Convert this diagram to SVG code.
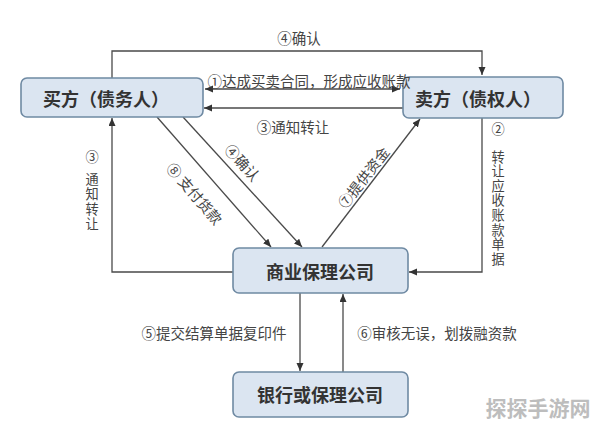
<svg xmlns="http://www.w3.org/2000/svg" width="596" height="426" viewBox="0 0 596 426">
<style>
.box{fill:#dbe5f1;stroke:#6f8aa3;stroke-width:1.6}
.bt{font-family:"Noto Sans CJK SC","Noto Sans",sans-serif;font-weight:bold;font-size:18px;fill:#333;text-anchor:middle;dominant-baseline:central}
.lb{font-family:"Noto Sans CJK SC","Noto Sans",sans-serif;font-size:14.5px;fill:#444;text-anchor:middle;dominant-baseline:central}
.vt{font-family:"Noto Sans CJK SC","Noto Sans",sans-serif;font-size:13.2px;fill:#444;text-anchor:middle;dominant-baseline:central}
.vv{font-family:"Noto Sans CJK SC","Noto Sans",sans-serif;font-size:13.2px;fill:#444;writing-mode:vertical-rl;text-orientation:upright;text-anchor:start}
.ln{fill:none;stroke:#4a4a4a;stroke-width:1.3}
.wm{font-family:"Noto Sans CJK SC",sans-serif;font-weight:bold;font-size:21px;fill:#bdbdbd;text-anchor:middle;dominant-baseline:central}
</style>
<defs>
<marker id="ah" markerUnits="userSpaceOnUse" markerWidth="9" markerHeight="8" refX="8" refY="3.5" orient="auto-start-reverse">
<path d="M0,0 L8,3.5 L0,7 z" fill="#333"/>
</marker>
</defs>
<rect width="596" height="426" fill="#fff"/>
<g id="connectors">
<path class="ln" d="M112,78 V51 H482 V75" marker-end="url(#ah)"/>
<path class="ln" d="M205,89 H400" marker-start="url(#ah)" marker-end="url(#ah)"/>
<path class="ln" d="M403,108 H204" marker-end="url(#ah)"/>
<path class="ln" d="M233,272 H112 V118" marker-end="url(#ah)"/>
<path class="ln" d="M482,118 V272 H409" marker-end="url(#ah)"/>
<path class="ln" d="M157,117 L271,247" marker-end="url(#ah)"/>
<path class="ln" d="M183,117 L302,247" marker-end="url(#ah)"/>
<path class="ln" d="M322,247 L420,119" marker-end="url(#ah)"/>
<path class="ln" d="M300,293 V371" marker-end="url(#ah)"/>
<path class="ln" d="M343,372 V294" marker-end="url(#ah)"/>
</g>
<g id="buyer">
<rect class="box" x="21" y="78" width="182" height="39" rx="6"/>
<text class="bt" x="106" y="98">买方（债务人）</text>
</g>
<g id="seller">
<rect class="box" x="403" y="77" width="160" height="41" rx="6"/>
<text class="bt" x="478" y="98">卖方（债权人）</text>
</g>
<g id="factor">
<rect class="box" x="233" y="248" width="175" height="45" rx="6"/>
<text class="bt" x="320" y="271">商业保理公司</text>
</g>
<g id="bank">
<rect class="box" x="233" y="372" width="175" height="45" rx="6"/>
<text class="bt" x="320" y="394">银行或保理公司</text>
</g>
<g id="labels">
<text class="lb" x="299" y="37">④确认</text>
<text class="lb" x="309" y="80">①达成买卖合同，形成应收账款</text>
<text class="lb" x="293" y="126">③通知转让</text>
<text class="vt" x="92" y="156">③</text>
<text class="vv" x="92" y="172" style="letter-spacing:1.8px">通知转让</text>
<text class="vt" x="498" y="128">②</text>
<text class="vv" x="498" y="150" style="letter-spacing:1.4px">转让应收账款单据</text>
<text class="lb" transform="translate(195,193) rotate(49)">⑧ 支付货款</text>
<text class="lb" transform="translate(243,162) rotate(48)">④确认</text>
<text class="lb" transform="translate(363,177) rotate(-52)">⑦提供资金</text>
<text class="lb" x="214" y="332">⑤提交结算单据复印件</text>
<text class="lb" x="437" y="332">⑥审核无误，划拨融资款</text>
</g>
<text class="wm" x="538" y="407">探探手游网</text>
</svg>
